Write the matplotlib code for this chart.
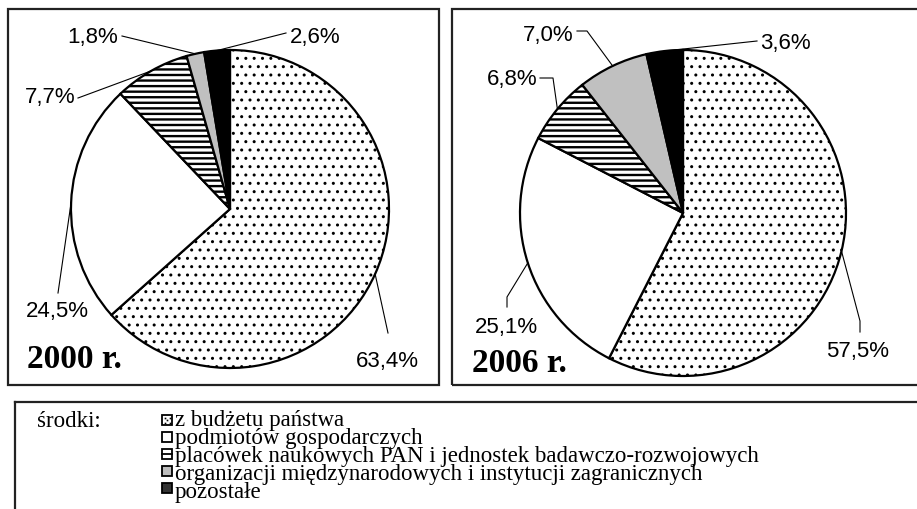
import numpy as np
import matplotlib
matplotlib.use("Agg")
import matplotlib.pyplot as plt
from matplotlib.patches import Rectangle

# data
sources = [
    "z budżetu państwa",
    "podmiotów gospodarczych",
    "placówek naukowych PAN i jednostek badawczo-rozwojowych",
    "organizacji międzynarodowych i instytucji zagranicznych",
    "pozostałe",
]
shares_2000 = [63.4, 24.5, 7.7, 1.8, 2.6]
shares_2006 = [57.5, 25.1, 6.8, 7.0, 3.6]
years = ["2000 r.", "2006 r."]

# styles per slice
fills = ["white", "white", "white", "#c0c0c0", "black"]
hatches = ["..", None, "---", None, None]
icon_fills = ["white", "white", "white", "#bdbdbd", "#333333"]

W, H = 917, 510
plt.rcParams["hatch.color"] = "black"

fig = plt.figure(figsize=(W / 100, H / 100), dpi=100)
ax = fig.add_axes([0, 0, 1, 1])


def Y(y):
    # image rows (from the top) to axes y
    return H - y


def fmt(v):
    return f"{v:.1f}".replace(".", ",") + "%"


# panel frames
ax.add_patch(Rectangle((8, Y(386)), 431, 376, fill=False, lw=1.6, ec="#222222"))
ax.add_patch(Rectangle((452, Y(386)), 480, 376, fill=False, lw=1.6, ec="#222222"))
ax.plot([15, W], [Y(403), Y(403)], color="#222222", lw=1.6)
ax.plot([15, 15], [Y(403), 0], color="#222222", lw=1.6)

# label layout in image pixels: text position, then leader path towards the slice
layout_2000 = [
    dict(txt=(387, 362, "center"), path=[(388, 334)]),
    dict(txt=(57, 312, "center"), path=[(58, 294)]),
    dict(txt=(75, 98, "right"), path=[(78, 99)]),
    dict(txt=(118, 38, "right"), path=[(122, 37)]),
    dict(txt=(290, 37, "left"), path=[(286, 34)]),
]
layout_2006 = [
    dict(txt=(858, 352, "center"), path=[(860, 333), (860, 322)]),
    dict(txt=(506, 327, "center"), path=[(507, 308), (507, 298)]),
    dict(txt=(537, 80, "right"), path=[(540, 79), (553, 79)]),
    dict(txt=(573, 35, "right"), path=[(577, 32), (587, 32)]),
    dict(txt=(760, 43, "left"), path=[(757, 42)]),
]

pies = [
    (shares_2000, (230, 210), 159, layout_2000, (27, 360)),
    (shares_2006, (683, 214), 163, layout_2006, (472, 364)),
]

for (shares, (cx, cy), r, layout, ypos), year in zip(pies, years):
    wedges, _ = ax.pie(
        shares,
        center=(cx, Y(cy)),
        radius=r,
        startangle=90,
        counterclock=False,
        colors=fills,
        wedgeprops=dict(edgecolor="black", linewidth=1.6),
        frame=True,
    )
    for w, h in zip(wedges, hatches):
        if h:
            w.set_hatch(h)
            if hasattr(w, "set_hatch_linewidth"):
                w.set_hatch_linewidth(1.0 if "." in h else 1.7)
    for w, v, lay in zip(wedges, shares, layout):
        ang = np.deg2rad((w.theta1 + w.theta2) / 2)
        ax_x = cx + r * np.cos(ang)
        ax_y = Y(cy) + r * np.sin(ang)
        pts = [(px, Y(py)) for px, py in lay["path"]] + [(ax_x, ax_y)]
        xs, ys = zip(*pts)
        ax.plot(xs, ys, color="black", lw=0.8, zorder=5)
        tx, ty, ha = lay["txt"]
        ax.text(tx, Y(ty), fmt(v), ha=ha, va="center", fontsize=16,
                family="Liberation Sans")
    ax.text(ypos[0], Y(ypos[1]), year, ha="left", va="center", fontsize=24,
            fontweight="bold", family="Liberation Serif")

# pie() resets limits, restore the pixel frame
ax.set_xlim(0, W)
ax.set_ylim(0, H)
ax.set_aspect("auto")
ax.axis("off")

# legend
ax.text(37, Y(427), "środki:", ha="left", va="baseline", fontsize=16.5,
        family="Liberation Serif")
row_y = [421, 438, 455, 472, 489]
for k, (fc, ry) in enumerate(zip(icon_fills, row_y)):
    ax.add_patch(Rectangle((162, Y(ry) - 5), 10, 10, facecolor=fc,
                           edgecolor="black", lw=1.3))
    if k == 0:
        for dx, dy in [(-2.5, 2.5), (2.5, 2.5), (0, 0), (-2.5, -2.5), (2.5, -2.5)]:
            ax.plot(167 + dx, Y(ry) + dy, "s", ms=1.2, color="black", mew=0)
    if k == 2:
        ax.plot([162, 172], [Y(ry), Y(ry)], color="black", lw=1.3)
ax.text(175, Y(410), "\n".join(sources), ha="left", va="top", fontsize=16.5,
        family="Liberation Serif", linespacing=0.815)

fig.savefig("out.png", dpi=100)
